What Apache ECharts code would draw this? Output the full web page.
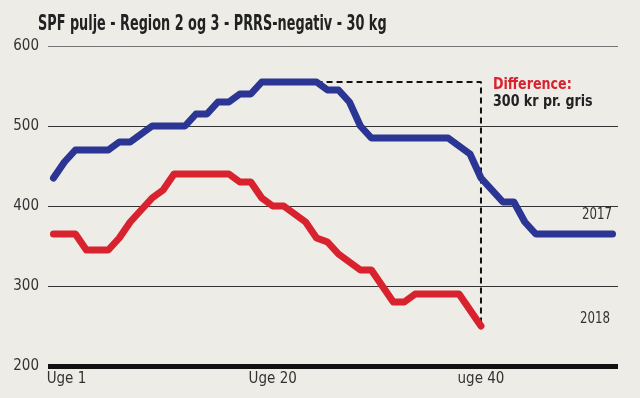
<!DOCTYPE html>
<html>
<head>
<meta charset="utf-8">
<script src="https://cdn.jsdelivr.net/npm/echarts@6/dist/echarts.min.js"></script>
<style>
    html, body { margin: 0; padding: 0; background: #edece7; }
    #chart { width: 640px; height: 398px; }
</style>
</head>
<body>
<div id="chart"></div>
<script>
var font = '"DejaVu Sans Condensed", "Liberation Sans Narrow", sans-serif';

// uge-nr og noteringer (kr pr. gris)
var weeks = [];
for (var i = 1; i <= 52; i++) weeks.push(i);
var price2017 = [435, 455, 470, 470, 470, 470, 480, 480, 490, 500, 500, 500, 500,
    515, 515, 530, 530, 540, 540, 555, 555, 555, 555, 555, 555, 545, 545, 530, 500,
    485, 485, 485, 485, 485, 485, 485, 485, 475, 465, 435, 420, 405, 405, 380,
    365, 365, 365, 365, 365, 365, 365, 365];
var price2018 = [365, 365, 365, 345, 345, 345, 360, 380, 395, 410, 420, 440, 440,
    440, 440, 440, 440, 430, 430, 410, 400, 400, 390, 380, 360, 355, 340, 330, 320,
    320, 300, 280, 280, 290, 290, 290, 290, 290, 270, 250];
var yTicks = [200, 300, 400, 500, 600];
var labelWeeks = [1, 21, 40];
var labelTexts = ['Uge 1', 'Uge 20', 'uge 40'];
var diffFrom = 25, diffTo = 40;   // stiplet linje for forskellen

function pairs(xs, ys) {
    return ys.map(function (v, i) { return [xs[i], v]; });
}

var diffLine = [
    [diffFrom, price2017[diffFrom - 1]],
    [diffTo, price2017[diffFrom - 1]],
    [diffTo, price2018[diffTo - 1]]
];

// smal tekst (originalen bruger en condensed skrift)
function narrowText(x, y, text, size, weight, color, sx, align) {
    return {
        type: 'text', x: x, y: y, scaleX: sx,
        style: {
            text: text, fill: color, align: align || 'left', verticalAlign: 'middle',
            font: weight + ' ' + size + 'px ' + font
        }
    };
}

var option = {
    backgroundColor: '#edece7',
    animation: false,
    grid: { left: 48, right: 22, top: 46, bottom: 32 },
    xAxis: {
        type: 'value',
        min: 0.5,
        max: 52.5,
        axisLine: { lineStyle: { color: '#111', width: 5, cap: 'butt' } },
        axisTick: { show: false },
        splitLine: { show: false },
        axisLabel: {
            customValues: labelWeeks,
            margin: 6,
            fontFamily: font,
            fontSize: 15,
            color: '#333',
            formatter: function (v) {
                var k = labelWeeks.indexOf(v);
                return k === 0 ? '{first|' + labelTexts[k] + '}' : labelTexts[k];
            },
            rich: {
                first: { fontFamily: font, fontSize: 15, color: '#333', padding: [0, 0, 0, 26] }
            }
        }
    },
    yAxis: {
        type: 'value',
        min: yTicks[0],
        max: yTicks[yTicks.length - 1],
        interval: 100,
        axisLine: { show: false },
        axisTick: { show: false },
        axisLabel: { margin: 9, fontFamily: font, fontSize: 15, color: '#333' },
        splitLine: {
            lineStyle: { color: ['#333', '#333', '#333', '#333', '#777'], width: 1 }
        }
    },
    series: [{
        name: 'Difference',
        type: 'line',
        data: diffLine,
        symbol: 'none',
        lineStyle: { color: '#111', width: 2, type: [6, 4] },
        z: 1
    }, {
        name: '2018',
        type: 'line',
        data: pairs(weeks, price2018),
        symbol: 'none',
        lineStyle: { color: '#d8232f', width: 7, cap: 'round', join: 'round' },
        z: 2
    }, {
        name: '2017',
        type: 'line',
        data: pairs(weeks, price2017),
        symbol: 'none',
        lineStyle: { color: '#2b3593', width: 7, cap: 'round', join: 'round' },
        z: 3
    }],
    graphic: [
        narrowText(38, 25, 'SPF pulje - Region 2 og 3 - PRRS-negativ - 30 kg', 21, 'bold', '#222', 0.68),
        narrowText(493, 85, 'Difference:', 16, 'bold', '#d8232f', 0.88),
        narrowText(493, 102, '300 kr pr. gris', 16, 'bold', '#222', 0.88),
        narrowText(612, 215, '2017', 16, 'normal', '#333', 0.82, 'right'),
        narrowText(610, 319, '2018', 16, 'normal', '#333', 0.82, 'right')
    ]
};

var chart = echarts.init(document.getElementById('chart'));
chart.setOption(option);
window.addEventListener('resize', function () {
    chart.resize();
});
</script>
</body>
</html>
